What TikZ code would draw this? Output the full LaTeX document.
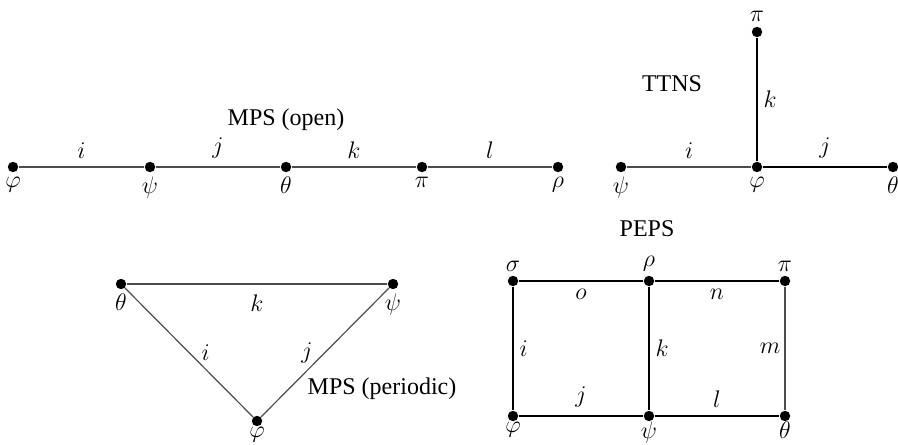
\documentclass[tikz,border=0pt,12pt]{standalone}
\usepackage{fontspec}
\setmainfont{Liberation Serif}
\usetikzlibrary{positioning}
\tikzset{
  site/.style={circle, fill=black, inner sep=0pt, minimum size=5.2pt},
  bond/.style={draw=black!70, line width=0.6pt},
  idx/.style={inner sep=1pt},
  lowidx/.style={inner sep=0.5pt, label distance=-0.5pt},
  ttl/.style={inner sep=1pt}
}

\begin{document}
\begin{tikzpicture}[x=0.5pt, y=-0.5pt, label distance=1pt]
  \useasboundingbox (0,0) rectangle (898,444);

  %% -- MPS (open) --
  \node[ttl] (mpsopen) at (286,120) {MPS (open)};
  \node[site, label={[idx]below:$\varphi$}] (oa) at (13,167)  {};
  \node[site, label={[idx]below:$\psi$}]    (ob) at (150,167) {};
  \node[site, label={[idx]below:$\theta$}]  (oc) at (286,167) {};
  \node[site, label={[idx]below:$\pi$}]     (od) at (422,167) {};
  \node[site, label={[idx]below:$\rho$}]    (oe) at (558,167) {};
  \draw[bond] (oa) -- node[idx, above=3pt] {$i$} (ob);
  \draw[bond] (ob) -- node[idx, above=3pt] {$j$} (oc);
  \draw[bond] (oc) -- node[idx, above=3pt] {$k$} (od);
  \draw[bond] (od) -- node[idx, above=3pt] {$l$} (oe);

  %% -- TTNS --
  \node[ttl] (ttns) at (672,84) {TTNS};
  \node[site, label={[idx]below:$\psi$}]   (ta) at (621,167) {};
  \node[site, label={[idx]below:$\varphi$}] (tb) at (757,167) {};
  \node[site, label={[idx]below:$\theta$}] (tc) at (893,167) {};
  \node[site, label={[idx]above:$\pi$}]    (td) at (757,32)  {};
  \draw[bond] (ta) -- node[idx, above=3pt] {$i$} (tb);
  \draw[bond, draw=black] (tb) -- node[idx, above=3pt] {$j$} (tc);
  \draw[bond, draw=black] (tb) -- node[idx, right=2pt] {$k$} (td);

  %% -- MPS (periodic) --
  \node[ttl] (mpsper) at (382,389) {MPS (periodic)};
  \node[site, label={[idx]below:$\theta$}]  (pa) at (121,284) {};
  \node[site, label={[idx]below:$\psi$}]    (pb) at (393,284) {};
  \node[site, label={[lowidx]below:$\varphi$}] (pc) at (257,421) {};
  \draw[bond] (pa) -- node[idx, below=4pt] {$k$} (pb);
  \draw[bond] (pa) -- node[idx, right=5pt] {$i$} (pc);
  \draw[bond] (pb) -- node[idx, left=5pt]  {$j$} (pc);

  %% -- PEPS --
  \node[ttl] (peps) at (647,229) {PEPS};
  \node[site, label={[idx]above:$\sigma$}]  (qa) at (513,281) {};
  \node[site, label={[idx]above:$\rho$}]    (qb) at (649,281) {};
  \node[site, label={[idx]above:$\pi$}]     (qc) at (785,281) {};
  \node[site, label={[lowidx]below:$\varphi$}] (qd) at (513,416) {};
  \node[site, label={[lowidx]below:$\psi$}]    (qe) at (649,416) {};
  \node[site, label={[lowidx]below:$\theta$}]  (qf) at (785,416) {};
  \draw[bond, draw=black] (qa) -- node[idx, below=3pt] {$o$} (qb);
  \draw[bond, draw=black] (qb) -- node[idx, below=3pt] {$n$} (qc);
  \draw[bond, draw=black] (qd) -- node[idx, above=3pt] {$j$} (qe);
  \draw[bond, draw=black] (qe) -- node[idx, above=3pt] {$l$} (qf);
  \draw[bond, draw=black] (qa) -- node[idx, right=2pt] {$i$} (qd);
  \draw[bond, draw=black] (qb) -- node[idx, right=2pt] {$k$} (qe);
  \draw[bond] (qc) -- node[idx, left=1pt] {$m$} (qf);
\end{tikzpicture}
\end{document}
